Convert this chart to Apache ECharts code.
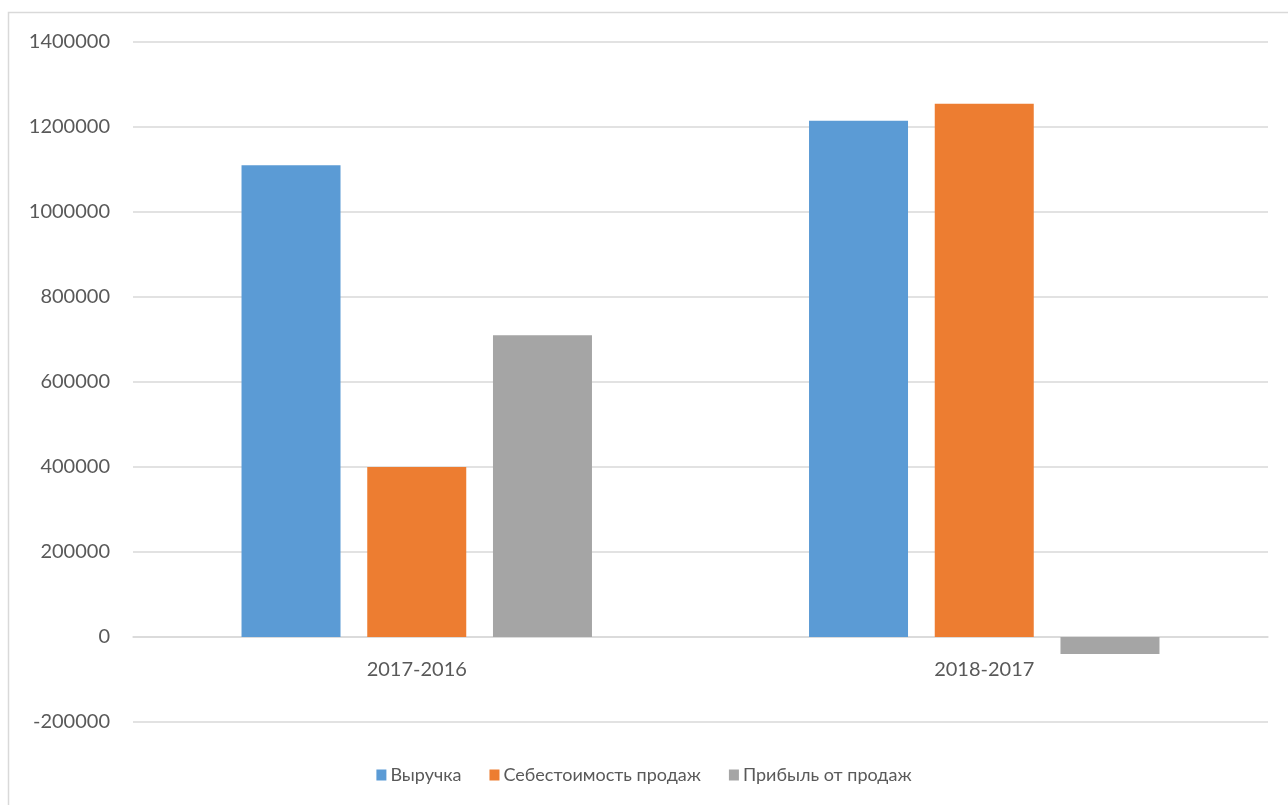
<!DOCTYPE html>
<html>
<head>
<meta charset="utf-8">
<script src="https://cdn.jsdelivr.net/npm/echarts@6/dist/echarts.min.js"></script>
<style>
html,body{margin:0;padding:0;background:#fff;}
#chart{width:1288px;height:805px;}
</style>
</head>
<body>
<div id="chart"></div>
<script>
const categories = ['2017-2016', '2018-2017'];
const seriesNames = ['Выручка', 'Себестоимость продаж', 'Прибыль от продаж'];
const revenue = [1110000, 1215000];
const cost = [400000, 1255000];
const profit = [710000, -40000];
const colors = ['#5B9BD5', '#ED7D31', '#A5A5A5'];
const FONT = 'Lato';

const chart = echarts.init(document.getElementById('chart'), null, {renderer: 'canvas'});
const dataSets = [revenue, cost, profit];
chart.setOption({
  animation: false,
  backgroundColor: '#fff',
  textStyle: {fontFamily: FONT},
  graphic: [{
    type: 'rect',
    shape: {x: 8.5, y: 12.5, width: 1400, height: 900},
    style: {fill: 'none', stroke: '#d9d9d9', lineWidth: 1.5},
    silent: true
  }],
  grid: {left: 133, right: 20, top: 42, bottom: 83, containLabel: false},
  legend: {
    bottom: 16,
    left: 'center',
    itemWidth: 10,
    itemHeight: 11,
    itemGap: 28,
    icon: 'rect',
    textStyle: {color: '#595959', fontSize: 18, fontFamily: FONT, padding: [0, 0, 0, -1]},
    data: seriesNames
  },
  xAxis: {
    type: 'category',
    data: categories,
    position: 'bottom',
    offset: -85,
    axisLine: {onZero: false, lineStyle: {color: '#d9d9d9', width: 1.5}},
    axisTick: {show: false},
    axisLabel: {color: '#595959', fontSize: 20, fontFamily: FONT, margin: 23}
  },
  yAxis: {
    type: 'value',
    min: -200000,
    max: 1400000,
    interval: 200000,
    axisLine: {show: false},
    axisTick: {show: false},
    splitLine: {lineStyle: {color: '#d9d9d9', width: 1.5}},
    axisLabel: {color: '#595959', fontSize: 20, fontFamily: FONT, margin: 23,
      formatter: v => String(v)}
  },
  series: seriesNames.map((n, i) => ({
    name: n,
    type: 'bar',
    data: dataSets[i],
    barWidth: 99,
    barGap: '27%',
    itemStyle: {color: colors[i]}
  }))
});
</script>
</body>
</html>
